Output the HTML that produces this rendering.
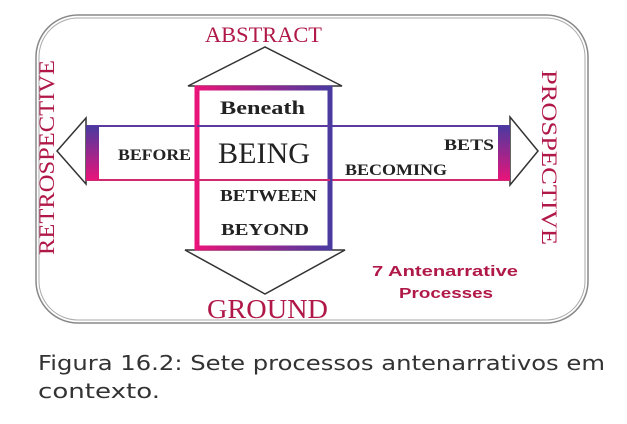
<!DOCTYPE html>
<html><head><meta charset="utf-8"><style>
body{margin:0;background:#fff;width:627px;height:419px;overflow:hidden}
</style></head><body>
<svg width="627" height="419" xmlns="http://www.w3.org/2000/svg">
<defs>
<linearGradient id="gh" x1="0" y1="0" x2="1" y2="0"><stop offset="0" stop-color="#e8147a"/><stop offset="1" stop-color="#4a3aa0"/></linearGradient>
<linearGradient id="gv" x1="0" y1="0" x2="0" y2="1"><stop offset="0" stop-color="#4a3aa0"/><stop offset="1" stop-color="#e8147a"/></linearGradient>
</defs>
<rect x="36" y="15" width="552" height="308" rx="42" fill="none" stroke="#888" stroke-width="1.5"/>
<rect x="39" y="18" width="546" height="302" rx="39" fill="none" stroke="#aaa" stroke-width="1"/>
<polygon points="188,86 265,47 342,86" fill="#fff" stroke="#333" stroke-width="1.5"/>
<polygon points="185,250 265,294 345,250" fill="#fff" stroke="#333" stroke-width="1.5"/>
<polygon points="86,118 57,151 86,184" fill="#fff" stroke="#333" stroke-width="1.5"/>
<polygon points="510,117 538,151 510,185" fill="#fff" stroke="#333" stroke-width="1.5"/>
<line x1="86" y1="126" x2="510" y2="126" stroke="#5a3aa0" stroke-width="2"/>
<line x1="86" y1="180" x2="510" y2="180" stroke="#d02a70" stroke-width="2"/>
<rect x="86" y="126" width="13" height="54" fill="url(#gv)"/>
<rect x="498" y="126" width="12" height="54" fill="url(#gv)"/>
<rect x="197" y="88" width="133" height="160" fill="none" stroke="url(#gh)" stroke-width="5"/>
<line x1="197" y1="126" x2="330" y2="126" stroke="#5a3aa0" stroke-width="2"/>
<line x1="197" y1="180" x2="330" y2="180" stroke="#d02a70" stroke-width="2"/>
<g font-family="Liberation Serif, serif" fill="#222" font-weight="bold">
<text x="220" y="114" font-size="19" textLength="85" lengthAdjust="spacingAndGlyphs">Beneath</text>
<text x="218" y="163" font-size="30" font-weight="normal" textLength="92" lengthAdjust="spacingAndGlyphs">BEING</text>
<text x="220" y="201" font-size="17" textLength="97" lengthAdjust="spacingAndGlyphs">BETWEEN</text>
<text x="221" y="235" font-size="17" textLength="88" lengthAdjust="spacingAndGlyphs">BEYOND</text>
<text x="118" y="160" font-size="16" textLength="73" lengthAdjust="spacingAndGlyphs">BEFORE</text>
<text x="345" y="175" font-size="16" textLength="102" lengthAdjust="spacingAndGlyphs">BECOMING</text>
<text x="444" y="150" font-size="16" textLength="50" lengthAdjust="spacingAndGlyphs">BETS</text>
</g>
<g font-family="Liberation Serif, serif" fill="#b01848">
<text x="205" y="42" font-size="22" textLength="117" lengthAdjust="spacingAndGlyphs">ABSTRACT</text>
<text x="207" y="318" font-size="27" textLength="121" lengthAdjust="spacingAndGlyphs">GROUND</text>
<text transform="translate(54,255) rotate(-90)" font-size="22" textLength="195" lengthAdjust="spacingAndGlyphs">RETROSPECTIVE</text>
<text transform="translate(542,70) rotate(90)" font-size="22" textLength="175" lengthAdjust="spacingAndGlyphs">PROSPECTIVE</text>
</g>
<g font-family="Liberation Sans, sans-serif" font-weight="bold" fill="#b01848" font-size="15">
<text x="372" y="276" textLength="146" lengthAdjust="spacingAndGlyphs">7 Antenarrative</text>
<text x="399" y="298" textLength="94" lengthAdjust="spacingAndGlyphs">Processes</text>
</g>
<g font-family="DejaVu Sans, sans-serif" fill="#333" font-size="20">
<text x="38" y="370" textLength="567" lengthAdjust="spacingAndGlyphs">Figura 16.2: Sete processos antenarrativos em</text>
<text x="38" y="398" textLength="122" lengthAdjust="spacingAndGlyphs">contexto.</text>
</g>
</svg>
</body></html>
